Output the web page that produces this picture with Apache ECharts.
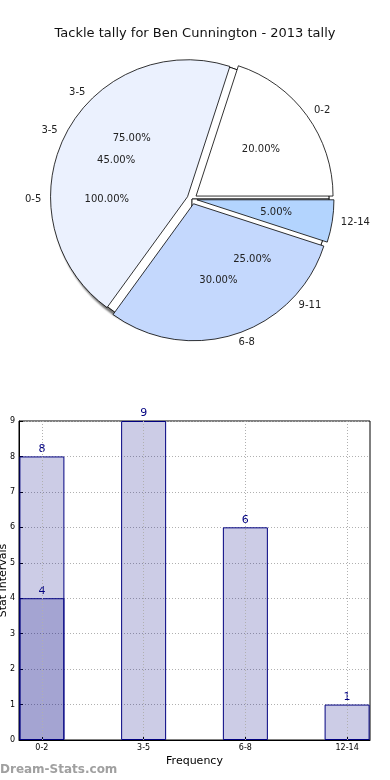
<!DOCTYPE html>
<html>
<head>
<meta charset="utf-8">
<script src="https://cdn.jsdelivr.net/npm/echarts@6/dist/echarts.min.js"></script>
<style>html,body{margin:0;padding:0;background:#fff}#c{width:390px;height:780px}</style>
</head>
<body>
<div id="c"></div>
<script>
const chartTitle = 'Tackle tally for Ben Cunnington - 2013 tally';
// top pie
const pie1Labels = ['0-2', '3-5', '6-8', '12-14'];
const pie1Values = [20, 45, 30, 5];
const pie1Colors = ['#ffffff', '#ebf1fe', '#c4d8fd', '#b3d4fe'];
// underlying pies (only labels visible)
const pie2Labels = ['3-5', '9-11'];
const pie2Values = [75, 25];
const pie3Labels = ['0-5'];
const pie3Values = [100];
// bar chart
const barCategories = ['0-2', '3-5', '6-8', '12-14'];
const barPositions = [0, 1, 2, 3];
const barValuesA = [8, 9, 6, 1];
const barValuesB = [4];
const yTicks = [0, 1, 2, 3, 4, 5, 6, 7, 8, 9];

const C = [192, 199];
const R = 137;
const font = 'DejaVu Sans';

function pieFill(labels, values, colors, z, explode, shadow) {
  return {
    type: 'pie', z: z, center: C, radius: R, startAngle: 0, clockwise: false,
    silent: true, selectedMode: explode ? 'multiple' : false, selectedOffset: 5,
    animation: false,
    label: { show: false }, labelLine: { show: false },
    emphasis: { disabled: true },
    data: values.map((v, i) => ({
      name: labels[i], value: v, selected: !!explode,
      itemStyle: Object.assign({ color: colors ? colors[i] : '#ffffff', borderColor: '#000', borderWidth: 0.8 },
        shadow ? { shadowColor: 'rgba(0,0,0,0.55)', shadowBlur: 2, shadowOffsetX: -2, shadowOffsetY: 2 } : {})
    }))
  };
}
function pieOuterLabels(labels, values) {
  return {
    type: 'pie', z: 10, center: C, radius: R, startAngle: 0, clockwise: false,
    silent: true, animation: false,
    itemStyle: { color: 'rgba(0,0,0,0)', borderWidth: 0 },
    label: { show: true, position: 'outside', formatter: '{b}', fontSize: 10, color: '#222', fontFamily: font, distanceToLabelLine: 0 },
    labelLine: { show: false, length: R * 0.1, length2: 0 },
    emphasis: { disabled: true },
    data: values.map((v, i) => ({ name: labels[i], value: v }))
  };
}
function pieInnerLabels(labels, values) {
  return {
    type: 'pie', z: 10, center: C, radius: R * 1.2, startAngle: 0, clockwise: false,
    silent: true, animation: false,
    itemStyle: { color: 'rgba(0,0,0,0)', borderWidth: 0 },
    label: { show: true, position: 'inside', formatter: p => p.value.toFixed(2) + '%', fontSize: 10, color: '#222', fontFamily: font },
    labelLine: { show: false },
    emphasis: { disabled: true },
    data: values.map((v, i) => ({ name: labels[i], value: v }))
  };
}

const chart = echarts.init(document.getElementById('c'), null, { renderer: 'canvas' });
chart.setOption({
  animation: false,
  textStyle: { fontFamily: font },
  title: { text: chartTitle, left: 'center', top: 22, textStyle: { fontSize: 13, fontWeight: 'normal', color: '#111', fontFamily: font } },
  graphic: [{ type: 'text', left: 0, top: 764, style: { text: 'Dream-Stats.com', fontSize: 12, fontWeight: 'bold', fill: '#a0a0a0', fontFamily: font } }],
  grid: { left: 19, right: 20, top: 421, bottom: 40, show: true, borderColor: '#000', borderWidth: 1, containLabel: false, outerBoundsMode: 'none' },
  xAxis: {
    type: 'value', min: -0.225, max: 3.225,
    axisLine: { onZero: false, lineStyle: { color: '#000' } },
    axisTick: { customValues: barPositions, inside: true, length: 4, lineStyle: { color: '#000' } },
    axisLabel: { customValues: barPositions, formatter: v => barCategories[Math.round(v)], fontSize: 8, color: '#000', margin: 4 },
    splitLine: { show: false },
    name: 'Frequency', nameLocation: 'middle', nameGap: 16, nameMoveOverlap: false, nameTextStyle: { fontSize: 11, color: '#000' }
  },
  yAxis: {
    type: 'value', min: 0, max: 9, interval: 1,
    axisLine: { onZero: false, lineStyle: { color: '#000' } },
    axisTick: { inside: true, length: 4, lineStyle: { color: '#000' } },
    axisLabel: { fontSize: 8, color: '#000', margin: 4, formatter: v => String(v) },
    splitLine: { show: true, lineStyle: { color: '#b0b0b0', type: [1, 2], width: 1 } },
    name: 'Stat Intervals', nameLocation: 'middle', nameGap: 10, nameMoveOverlap: false, nameTextStyle: { fontSize: 11, color: '#000' }
  },
  series: [
    pieFill(pie3Labels, pie3Values, null, 1, false, true),
    pieFill(pie2Labels, pie2Values, null, 2, false, false),
    pieFill(pie1Labels, pie1Values, pie1Colors, 3, true, false),
    pieOuterLabels(pie1Labels, pie1Values),
    pieOuterLabels(pie2Labels, pie2Values),
    pieOuterLabels(pie3Labels, pie3Values),
    pieInnerLabels(pie1Labels, pie1Values),
    pieInnerLabels(pie2Labels, pie2Values),
    pieInnerLabels(pie3Labels, pie3Values),
    {
      type: 'bar', barWidth: 45, barGap: '-100%', silent: true,
      itemStyle: { color: 'rgba(0,0,128,0.2)', borderColor: '#000080', borderWidth: 1 },
      label: { show: true, position: 'top', color: '#000080', fontSize: 11, distance: 2, formatter: p => String(p.value[1]) },
      data: barPositions.map((x, i) => [x, barValuesA[i]]),
      markLine: {
        silent: true, symbol: 'none', label: { show: false },
        lineStyle: { color: '#b0b0b0', type: [1, 2], width: 1 },
        data: barPositions.map(x => ({ xAxis: x }))
      }
    },
    {
      type: 'bar', barWidth: 45, barGap: '-100%', silent: true,
      itemStyle: { color: 'rgba(0,0,128,0.2)', borderColor: '#000080', borderWidth: 1 },
      label: { show: true, position: 'top', color: '#000080', fontSize: 11, distance: 2, formatter: p => String(p.value[1]) },
      data: barValuesB.map((v, i) => [barPositions[i], v])
    }
  ]
});
</script>
</body>
</html>
